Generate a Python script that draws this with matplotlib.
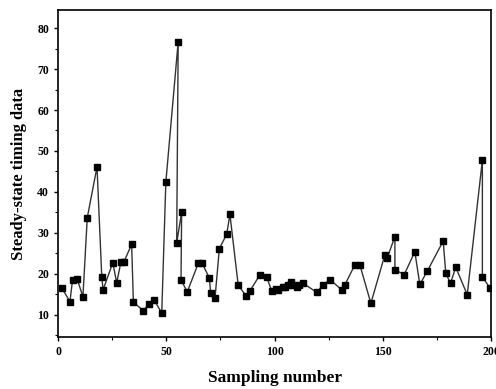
import matplotlib
matplotlib.use("Agg")
import matplotlib.pyplot as plt
from matplotlib.ticker import MultipleLocator

# Sampling number and steady-state timing value for each sample
sample_no = [1.7, 5.5, 6.7, 8.8, 11.5, 13.5, 18.0, 20.2, 20.8, 25.3, 27.1, 29.1, 30.5,
             34.0, 34.8, 39.4, 42.0, 44.3, 47.9, 49.8, 55.5, 54.8, 57.1, 56.8, 59.7,
             64.8, 66.5, 69.9, 70.5, 72.5, 74.5, 77.9, 79.4, 83.2, 86.8, 88.6, 93.3,
             96.4, 98.7, 100.5, 101.6, 103.9, 105.0, 106.3, 107.4, 108.5, 110.2, 111.5,
             113.2, 119.4, 122.5, 125.6, 131.0, 132.5, 137.1, 139.4, 144.5, 151.0,
             152.0, 155.6, 155.6, 159.9, 164.8, 167.1, 170.5, 177.9, 179.1, 181.3,
             183.7, 189.0, 196.0, 196.0, 199.5]
timing = [16.6, 13.2, 18.5, 18.8, 14.4, 33.7, 46.1, 19.3, 16.1, 22.7, 17.8, 23.0, 23.0,
          27.2, 13.1, 11.0, 12.7, 13.7, 10.4, 42.4, 76.7, 27.5, 35.1, 18.5, 15.6,
          22.6, 22.6, 19.0, 15.2, 14.0, 26.1, 29.7, 34.5, 17.3, 14.6, 15.8, 19.8,
          19.2, 15.8, 16.3, 16.1, 16.7, 16.9, 17.3, 17.9, 17.2, 16.9, 17.3,
          17.7, 15.5, 17.3, 18.6, 16.1, 17.3, 22.2, 22.2, 12.8, 24.7,
          23.8, 29.1, 21.0, 19.8, 25.4, 17.4, 20.6, 28.0, 20.1, 17.7,
          21.6, 14.9, 47.8, 19.3, 16.5]

x_ticks = [0, 50, 100, 150, 200]
y_ticks = [10, 20, 30, 40, 50, 60, 70, 80]

plt.rcParams['font.family'] = ['Liberation Serif', 'DejaVu Serif']

fig = plt.figure(figsize=(4.96, 3.89), dpi=100)
ax = fig.add_axes([0.117, 0.134, 0.873, 0.840])

ax.plot(sample_no, timing, color='#333333', linewidth=1.0,
        marker='s', markersize=4.2, markerfacecolor='black',
        markeredgecolor='black')

ax.set_xlim(0, 200)
ax.set_ylim(4.6, 84.4)
ax.set_xticks(x_ticks)
ax.set_yticks(y_ticks)
ax.xaxis.set_minor_locator(MultipleLocator(25))
ax.yaxis.set_minor_locator(MultipleLocator(5))
ax.tick_params(which='major', direction='out', length=3, width=1,
               labelsize=8.5)
ax.tick_params(which='minor', direction='out', length=2, width=0.8)
for lbl in ax.get_xticklabels() + ax.get_yticklabels():
    lbl.set_fontweight('bold')

for spine in ax.spines.values():
    spine.set_linewidth(1.2)

ax.set_xlabel('Sampling number', fontsize=12.5, fontweight='bold', labelpad=9)
ax.set_ylabel('Steady-state timing data', fontsize=12, fontweight='bold',
              labelpad=7)

fig.savefig('out.png', dpi=100)
